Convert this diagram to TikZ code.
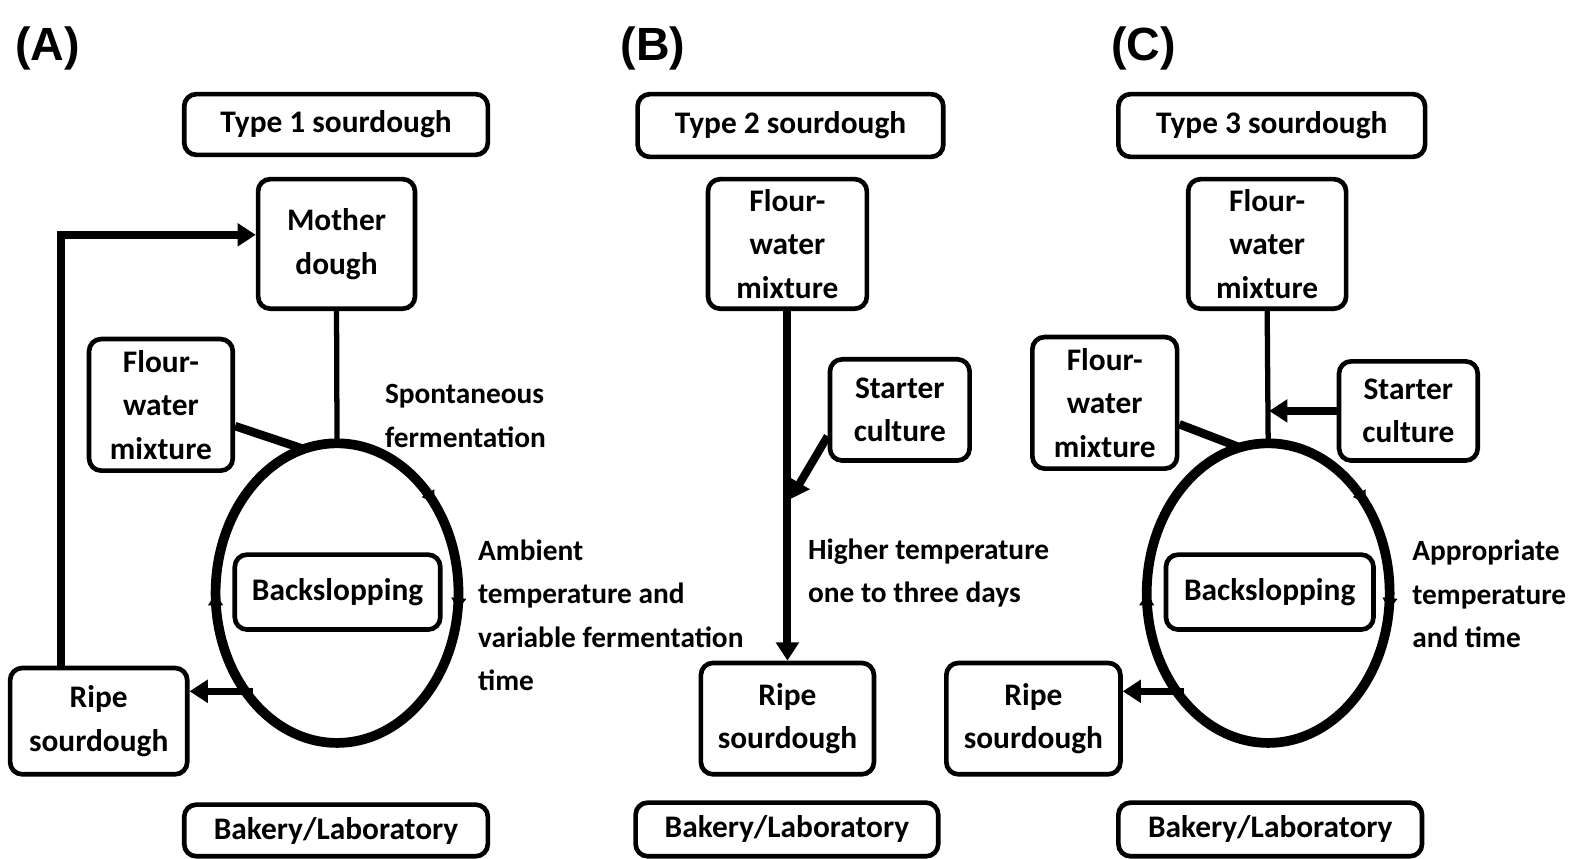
\documentclass[tikz,border=0pt]{standalone}
\usepackage{fontspec}
\setmainfont{Carlito}
\newfontfamily\panelfont{Liberation Sans}
\usetikzlibrary{arrows.meta,decorations.markings,shapes.geometric}
\begin{document}
\begin{tikzpicture}[x=0.5pt,y=-0.5pt,
  box/.style={draw, line width=2.3pt, rounded corners=6pt, inner sep=0pt, align=center,
    font=\fontsize{15.5}{21.5}\selectfont\bfseries},
  lbl/.style={anchor=west, align=left, inner sep=0pt, font=\fontsize{14.5}{21.5}\selectfont\bfseries},
  panel/.style={font=\panelfont\fontsize{23}{26}\selectfont\bfseries, inner sep=0pt},
  ringshape/.style={ellipse, minimum width=120pt, minimum height=148pt, inner sep=0pt, outer sep=0pt},
  ring/.style={line width=4.8pt, postaction={decorate}, decoration={markings,
     mark=at position 0.02 with {\arrow{Triangle[length=6pt,width=7pt]}},
     mark=at position 0.5 with {\arrow{Triangle[length=6pt,width=7pt]}},
     mark=at position 0.89 with {\arrow{Triangle[length=6pt,width=7pt]}}}},
  link/.style={line width=2.6pt},
  thick link/.style={line width=4.2pt},
  arr/.style={line width=4pt, -{Triangle[length=9pt,width=11pt]}},
]
\useasboundingbox (0,0) rectangle (1568,848);

% ---------- Panel A ----------
\node[panel] (pA) at (47,48) {(A)};
\node[box, minimum width=150pt, minimum height=30pt] (tA) at (332,123) {Type 1 sourdough};
\node[box, minimum width=77.5pt, minimum height=64pt] (md) at (332.5,241) {Mother\\dough};
\node[box, minimum width=71pt, minimum height=65pt] (fwA) at (159,400) {Flour-\\water\\mixture};
\node[ringshape] (cA) at (333,586) {};
\draw[ring] (cA.center) ellipse [x radius=120, y radius=148];
\node[box, minimum width=101.5pt, minimum height=37pt, fill=white] (bsA) at (333.5,585) {Backslopping};
\node[box, minimum width=87.5pt, minimum height=52.5pt] (rsA) at (97.5,712.5) {Ripe\\sourdough};
\node[box, minimum width=150pt, minimum height=25.5pt] (blA) at (332,820.5) {Bakery/Laboratory};
\node[lbl] (sfA) at (380,411) {Spontaneous\\fermentation};
\node[lbl] (amA) at (472,608) {Ambient\\temperature and\\variable fermentation\\time};

\draw[link] (md.south) -- (cA.north);
\draw[thick link] (fwA.-16) -- (cA.103);
\coordinate (fbA) at (60,232);
\draw[arr] (rsA.north -| fbA) -- (fbA) -- (md.west |- fbA);
\coordinate (oA) at (250,683);
\draw[arr, line width=3.2pt] (oA) -- (oA -| rsA.east);

% ---------- Panel B ----------
\node[panel] (pB) at (645,48) {(B)};
\node[box, minimum width=151pt, minimum height=31pt] (tB) at (781,124) {Type 2 sourdough};
\node[box, minimum width=78.5pt, minimum height=64pt] (fwB) at (778,241) {Flour-\\water\\mixture};
\node[box, minimum width=69pt, minimum height=50pt] (scB) at (889,405) {Starter\\culture};
\node[box, minimum width=85.5pt, minimum height=55pt] (rsB) at (778,710) {Ripe\\sourdough};
\node[box, minimum width=149.5pt, minimum height=26.5pt] (blB) at (777.5,819.5) {Bakery/Laboratory};
\node[lbl] (htB) at (798,566) {Higher temperature\\one to three days};

\draw[arr] (fwB.south) -- (rsB.north);
\coordinate (jB) at (781,493);
\draw[arr] (scB.200) -- (jB);

% ---------- Panel C ----------
\node[panel] (pC) at (1130,48) {(C)};
\node[box, minimum width=151.5pt, minimum height=31pt] (tC) at (1256.5,124) {Type 3 sourdough};
\node[box, minimum width=78pt, minimum height=64pt] (fwC) at (1252,241) {Flour-\\water\\mixture};
\node[box, minimum width=71.5pt, minimum height=65pt] (fwL) at (1091.5,398) {Flour-\\water\\mixture};
\node[box, minimum width=68.5pt, minimum height=49pt] (scC) at (1391.5,406) {Starter\\culture};
\node[ringshape] (cC) at (1253,586) {};
\draw[ring] (cC.center) ellipse [x radius=120, y radius=148];
\node[box, minimum width=102.5pt, minimum height=37pt, fill=white] (bsC) at (1254.5,585) {Backslopping};
\node[box, minimum width=86pt, minimum height=55pt] (rsC) at (1021,710) {Ripe\\sourdough};
\node[box, minimum width=150pt, minimum height=26.5pt] (blC) at (1255,819.5) {Bakery/Laboratory};
\node[lbl] (apC) at (1395,587) {Appropriate\\temperature\\and time};

\draw[link] (fwC.south) -- (cC.north);
\draw[thick link] (fwL.-16) -- (cC.101);
\draw[arr, shorten >=1pt] (scC.west) -- (fwC.south |- scC.west);
\coordinate (oC) at (1170,683);
\draw[arr, line width=3.2pt] (oC) -- (oC -| rsC.east);
\end{tikzpicture}
\end{document}
